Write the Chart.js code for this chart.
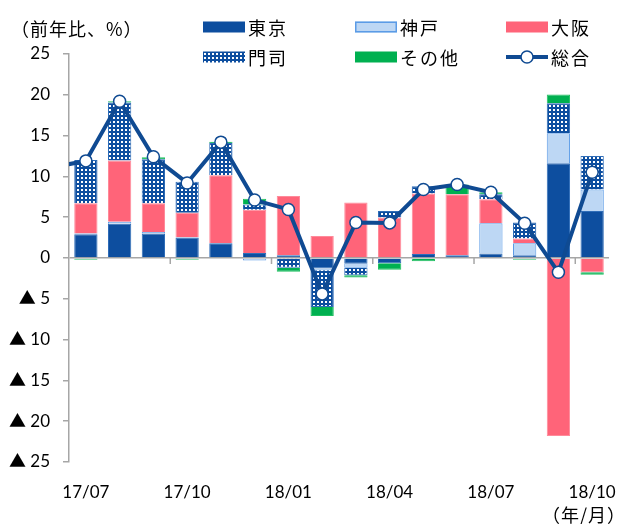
<!DOCTYPE html>
<html><head><meta charset="utf-8">
<script src="https://cdn.jsdelivr.net/npm/chart.js@4/dist/chart.umd.min.js"></script>
<style>
html,body{margin:0;padding:0;background:#fff;}
#wrap{position:relative;width:636px;height:524px;overflow:hidden;}
#c{position:absolute;left:0;top:0;}
.t{position:absolute;font-family:'Noto Sans CJK JP';font-size:18px;color:#000;line-height:18px;white-space:nowrap;}
.lg{position:absolute;height:18px;}
.lg canvas{position:absolute;left:0;top:0;}
.lg span{position:absolute;left:45px;top:0;font-family:'Noto Sans CJK JP';font-size:18px;line-height:18px;letter-spacing:2px;white-space:nowrap;color:#000;}
</style></head><body>
<div id="wrap">
<canvas id="c" width="636" height="524"></canvas>
<div class="t" style="left:11px;top:19px;letter-spacing:1px">（前年比、%）</div>
<div id="legend"></div>
<div class="t" style="left:542px;top:505px;letter-spacing:1px">（年/月）</div>
</div>
<script>
// ---- data ----
const labels = ['17/07','17/08','17/09','17/10','17/11','17/12','18/01','18/02','18/03','18/04','18/05','18/06','18/07','18/08','18/09','18/10'];
const prevLabel = '17/06';
const prevTotal = 11.1;
const tokyo = [2.9, 4.2, 3.0, 2.5, 1.8, 0.6, 0.35, -1.3, -0.7, -0.65, 0.5, 0.35, 0.55, 0.35, 11.6, 5.75];
const kobe  = [0.1, 0.25, 0.2, 0.05, 0.05, -0.3, 0, -0.2, -0.5, 0, 0, 0, 3.7, 1.45, 3.7, 2.65];
const osaka = [3.7, 7.5, 3.5, 3.0, 8.3, 5.3, 7.25, 2.7, 6.8, 4.95, 7.4, 7.45, 2.95, 0.6, -21.8, -1.75];
const moji  = [5.3, 7.1, 5.4, 3.8, 3.95, 0.65, -1.2, -4.5, -0.9, 0.8, 0.9, 0, 0.6, 1.95, 3.65, 4.1];
const other = [-0.2, 0.15, 0.25, -0.2, 0.15, 0.7, -0.5, -1.1, -0.3, -0.8, -0.4, 1.2, 0.25, -0.2, 1.1, -0.3];
const total = [11.9, 19.2, 12.4, 9.2, 14.2, 7.1, 5.95, -4.4, 4.35, 4.3, 8.4, 9.0, 8.05, 4.25, -1.75, 10.5];
const yTicks = [-25, -20, -15, -10, -5, 0, 5, 10, 15, 20, 25];
const seriesNames = ['東京', '神戸', '大阪', '門司', 'その他', '総合'];

// ---- styles ----
const BLUE = '#0D4E9F', LINE = '#0F4A92', KOBE = '#BDD7F4', KOBE_B = '#5B9BE6', PINK = '#FF6479', GREEN = '#00B050', AXIS = '#A6A6A6';
function makePatternFor(g) {
  const p = document.createElement('canvas'); p.width = 4; p.height = 4;
  const pg = p.getContext('2d');
  pg.fillStyle = BLUE; pg.fillRect(0, 0, 4, 4);
  pg.fillStyle = '#fff'; pg.fillRect(1, 1, 2, 2);
  return g.createPattern(p, 'repeat');
}
const ctx = document.getElementById('c').getContext('2d');
const pattern = makePatternFor(ctx);

const allLabels = [prevLabel].concat(labels);
const pad = arr => [null].concat(arr);
const FONT = "Lato, 'Noto Sans CJK JP', sans-serif";

const barCommon = {stack: 's', order: 1, barPercentage: 0.69, categoryPercentage: 1, borderWidth: 1};

const zeroTicks = {
  id: 'zeroTicks',
  beforeDatasetsDraw(chart) {
    const x = chart.scales.x, y = chart.scales.y;
    const y0 = y.getPixelForValue(0);
    const c = chart.ctx;
    c.save();
    c.strokeStyle = AXIS; c.lineWidth = 1.5;
    for (let v = x.min + 3; v <= x.max; v += 3) {
      const px = (x.getPixelForValue(v) + x.getPixelForValue(v - 1)) / 2;
      c.beginPath(); c.moveTo(px, y0); c.lineTo(px, y0 + 6); c.stroke();
    }
    c.restore();
  }
};

new Chart(ctx, {
  data: {
    labels: allLabels,
    datasets: [
      Object.assign({type: 'bar', label: seriesNames[0], data: pad(tokyo), backgroundColor: BLUE, borderColor: '#2F6DB8'}, barCommon),
      Object.assign({type: 'bar', label: seriesNames[1], data: pad(kobe), backgroundColor: KOBE, borderColor: KOBE_B}, barCommon),
      Object.assign({type: 'bar', label: seriesNames[2], data: pad(osaka), backgroundColor: PINK, borderColor: '#FF8A9A'}, barCommon),
      Object.assign({type: 'bar', label: seriesNames[3], data: pad(moji), backgroundColor: pattern, borderColor: '#2F6DB8'}, barCommon),
      Object.assign({type: 'bar', label: seriesNames[4], data: pad(other), backgroundColor: GREEN, borderColor: '#20C060'}, barCommon),
      {type: 'line', label: seriesNames[5], data: [prevTotal].concat(total), stack: 'line', order: 0,
       borderColor: LINE, borderWidth: 4, pointRadius: [0].concat(total.map(() => 6)),
       pointBackgroundColor: '#fff', pointBorderColor: LINE, pointBorderWidth: 1.5,
       clip: {left: 0, top: false, right: false, bottom: false}, tension: 0}
    ]
  },
  options: {
    responsive: false, animation: false, devicePixelRatio: 1,
    layout: {padding: {top: 54, right: 9, bottom: 0, left: 0}},
    plugins: {legend: {display: false}, tooltip: {enabled: false}, title: {display: false}},
    scales: {
      x: {
        type: 'category', min: labels[0], stacked: true, offset: true,
        grid: {display: false, drawTicks: false},
        border: {display: false},
        ticks: {autoSkip: false, maxRotation: 0, padding: 20, color: '#000', font: {family: FONT, size: 17},
          callback(v) { return (v - 1) % 3 === 0 ? this.getLabelForValue(v) : ''; }},
        afterFit(s) { s.height = 62; }
      },
      y: {
        stacked: true, min: -25, max: 25,
        afterBuildTicks(s) { s.ticks = yTicks.map(v => ({value: v})); },
        grid: {color: c => (c.tick && c.tick.value === 0) ? AXIS : 'rgba(0,0,0,0)', lineWidth: 1.5,
               tickColor: AXIS, tickLength: 6, drawTicks: true},
        border: {display: true, color: AXIS, width: 1.5},
        ticks: {padding: 13, color: '#000', font: {family: FONT, size: 17},
          callback(v) { return v < 0 ? '▲ ' + (-v) : String(v); }},
        afterFit(s) { s.width = 69; }
      }
    }
  },
  plugins: [zeroTicks]
});

// ---- HTML legend ----
const legendPos = [[203, 18], [355, 18], [506, 18], [203, 48], [355, 48], [506, 48]];
function drawMarker(g, i) {
  const h = 18, cy = h / 2;
  if (i === 5) {
    g.strokeStyle = LINE; g.lineWidth = 4; g.beginPath(); g.moveTo(0, cy); g.lineTo(42, cy); g.stroke();
    g.fillStyle = '#fff'; g.strokeStyle = LINE; g.lineWidth = 1.5;
    g.beginPath(); g.arc(21, cy, 6, 0, Math.PI * 2); g.fill(); g.stroke();
    return;
  }
  const y0 = cy - 5.5;
  if (i === 0) { g.fillStyle = BLUE; g.fillRect(0, y0, 42, 11); }
  if (i === 1) { g.fillStyle = KOBE; g.fillRect(0, y0, 42, 11); g.strokeStyle = KOBE_B; g.lineWidth = 1.5; g.strokeRect(0.75, y0 + 0.75, 40.5, 9.5); }
  if (i === 2) { g.fillStyle = PINK; g.fillRect(0, y0, 42, 11); }
  if (i === 3) { g.fillStyle = makePatternFor(g); g.fillRect(0, y0, 42, 11); }
  if (i === 4) { g.fillStyle = GREEN; g.fillRect(0, y0, 42, 11); }
}
const lg = document.getElementById('legend');
seriesNames.forEach((name, i) => {
  const d = document.createElement('div'); d.className = 'lg';
  d.style.left = legendPos[i][0] + 'px'; d.style.top = legendPos[i][1] + 'px';
  const cv = document.createElement('canvas'); cv.width = 44; cv.height = 18;
  drawMarker(cv.getContext('2d'), i);
  const sp = document.createElement('span'); sp.textContent = name;
  d.appendChild(cv); d.appendChild(sp); lg.appendChild(d);
});
</script>
</body></html>
